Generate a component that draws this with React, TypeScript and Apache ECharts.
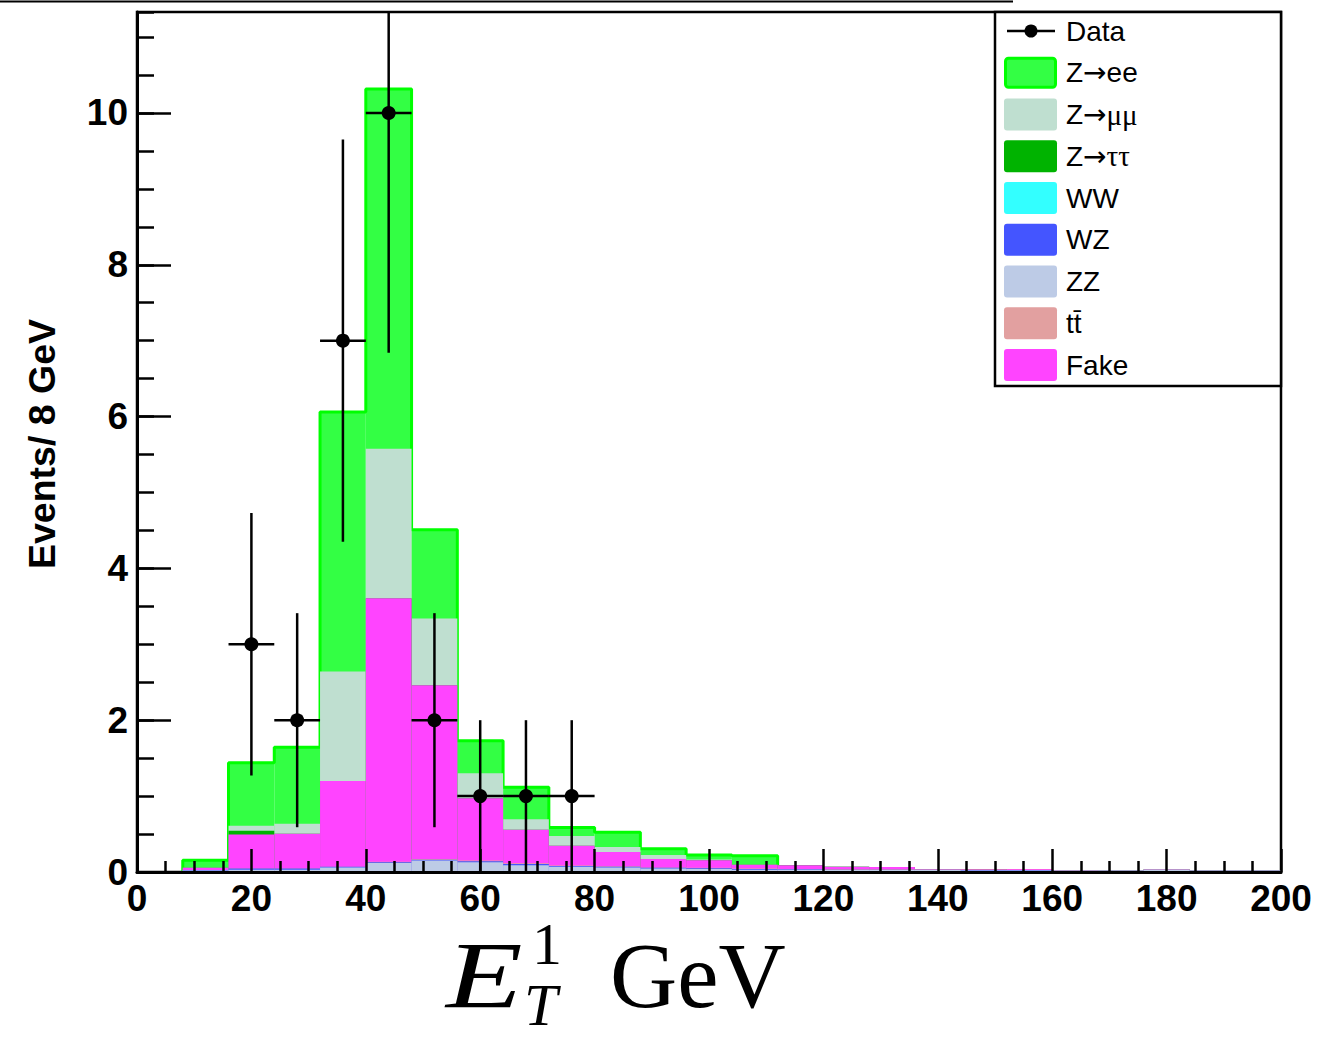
import React, { useEffect, useRef } from 'react';
import * as echarts from 'echarts';

// ---------- DATA ----------
const BIN_W = 8;
const binLow = [0, 8, 16, 24, 32, 40, 48, 56, 64, 72, 80, 88, 96, 104, 112, 120, 128, 136, 144, 152, 160, 168, 176, 184, 192];

// stacked components, bottom -> top
const ww = [0.005, 0.01, 0.01, 0.01, 0.01, 0.01, 0.01, 0.01, 0.01, 0.01, 0.01, 0.01, 0.01, 0.01, 0.01, 0.01, 0.01, 0.01, 0.01, 0.01, 0.01, 0.01, 0.01, 0.01, 0.01];
const zz = [0, 0.01, 0.02, 0.02, 0.05, 0.11, 0.14, 0.12, 0.08, 0.06, 0.05, 0.035, 0.03, 0.02, 0.02, 0.015, 0.015, 0.015, 0.01, 0.01, 0.005, 0.005, 0.02, 0.005, 0.005];
const wz = [0, 0.005, 0.015, 0.015, 0.01, 0.01, 0.01, 0.01, 0.015, 0.01, 0.01, 0.01, 0.01, 0.01, 0.005, 0.005, 0.005, 0.005, 0.005, 0.005, 0, 0, 0, 0, 0];
const ttbar = [0, 0, 0, 0, 0, 0.005, 0.01, 0.01, 0.01, 0.005, 0.005, 0.005, 0.005, 0.005, 0.005, 0.005, 0.005, 0.005, 0.005, 0.005, 0.005, 0, 0.005, 0, 0];
const fake = [0, 0.03, 0.45, 0.46, 1.13, 3.47, 2.29, 0.82, 0.44, 0.26, 0.19, 0.11, 0.10, 0.05, 0.05, 0.035, 0.03, 0.005, 0.005, 0.01, 0, 0, 0, 0, 0];
const ztautau = [0, 0, 0.05, 0, 0, 0, 0, 0, 0, 0, 0, 0, 0, 0, 0, 0, 0, 0, 0, 0, 0, 0, 0, 0, 0];
const zmumu = [0, 0, 0.065, 0.13, 1.44, 1.97, 0.88, 0.33, 0.14, 0.13, 0.065, 0.055, 0.01, 0, 0, 0, 0, 0, 0, 0, 0, 0, 0, 0, 0];
const zee = [0, 0.10, 0.83, 1.01, 3.42, 4.74, 1.17, 0.43, 0.42, 0.11, 0.195, 0.08, 0.06, 0.12, 0, 0, 0, 0, 0, 0, 0, 0, 0, 0, 0];

// observed data
const dataX = [20, 28, 36, 44, 52, 60, 68, 76];
const dataY = [3, 2, 7, 10, 2, 1, 1, 1];
const dataErr = [1.73, 1.41, 2.65, 3.16, 1.41, 1, 1, 1];

const xTicks = { min: 0, max: 200, step: 20 };
const yTicks = { min: 0, max: 11.33, step: 2 };

const stackNames = ['WW', 'ZZ', 'WZ', 'ttbar', 'Fake', 'Ztautau', 'Zmumu', 'Zee'];
const stackData = [ww, zz, wz, ttbar, fake, ztautau, zmumu, zee];
const stackColors = ['#33ffff', '#bdcbe6', '#4455ff', '#e2a0a0', '#ff44ff', '#00b300', '#bfdfd0', '#33ff44'];

const legendLabels = ['Data', '{a|Z}{b|→}{a|ee}', '{a|Z}{b|→}{g|μμ}', '{a|Z}{b|→}{g|ττ}', 'WW', 'WZ', 'ZZ', 'tt\u0304', 'Fake'];
const legendColors = ['', '#33ff44', '#bfdfd0', '#00b300', '#33ffff', '#4455ff', '#bdcbe6', '#e2a0a0', '#ff44ff'];

// ---------- CHART ----------
const BLACK = '#000';
const SANS = 'Liberation Sans, Arial, sans-serif';
const SERIF = 'Liberation Serif, Times New Roman, serif';

function rectRenderer(color: string) {
  return (params: any, api: any) => {
    const x0 = api.value(0);
    const x1 = api.value(1);
    const v = api.value(2);
    if (!(v > 0)) return null;
    const p0 = api.coord([x0, 0]);
    const p1 = api.coord([x1, v]);
    return {
      type: 'rect',
      shape: { x: p0[0], y: p1[1], width: p1[0] - p0[0], height: p0[1] - p1[1] },
      style: { fill: color },
    };
  };
}

export default function App() {
  const ref = useRef<HTMLDivElement>(null);

  useEffect(() => {
    document.body.style.margin = '0';
    const chart = echarts.init(ref.current!, null, { renderer: 'svg' });

    // cumulative sums (bottom -> top)
    const cum: number[][] = [];
    stackData.forEach((arr, k) => {
      cum.push(arr.map((v, i) => v + (k > 0 ? cum[k - 1][i] : 0)));
    });

    const series: any[] = [];
    // draw from the top-most cumulative downward (ROOT-style overlay)
    for (let k = stackData.length - 1; k >= 0; k--) {
      series.push({
        type: 'custom',
        name: stackNames[k],
        renderItem: rectRenderer(stackColors[k]),
        encode: { x: [0, 1], y: 2 },
        data: binLow.map((x, i) => [x, x + BIN_W, cum[k][i]]),
        z: 10 + (stackData.length - 1 - k) * 2,
        clip: true,
        silent: true,
      });
      if (k === stackData.length - 1) {
        // outline of Z->ee histogram
        const total = cum[k];
        const pts: number[][] = [];
        let first = -1, last = -1;
        total.forEach((v, i) => { if (zee[i] > 0) { if (first < 0) first = i; last = i; } });
        pts.push([binLow[first], 0]);
        for (let i = first; i <= last; i++) pts.push([binLow[i] + BIN_W, total[i]]);
        pts.push([binLow[last] + BIN_W, 0]);
        series.push({
          type: 'line',
          name: 'ZeeOutline',
          data: pts,
          step: 'start',
          symbol: 'none',
          lineStyle: { color: '#00ff00', width: 3 },
          z: 11,
          silent: true,
          clip: true,
        });
      }
    }

    series.push({
      type: 'custom',
      name: 'Data',
      encode: { x: 0, y: 1 },
      data: dataX.map((x, i) => [x, dataY[i], dataErr[i]]),
      z: 60,
      clip: true,
      renderItem: (params: any, api: any) => {
        const x = api.value(0);
        const y = api.value(1);
        const e = api.value(2);
        const c = api.coord([x, y]);
        const top = api.coord([x, Math.min(y + e, yTicks.max)]);
        const bot = api.coord([x, Math.max(0, y - e)]);
        const l = api.coord([x - BIN_W / 2, y]);
        const r = api.coord([x + BIN_W / 2, y]);
        return {
          type: 'group',
          children: [
            { type: 'line', shape: { x1: c[0], y1: top[1], x2: c[0], y2: bot[1] }, style: { stroke: BLACK, lineWidth: 2.5 } },
            { type: 'line', shape: { x1: l[0], y1: c[1], x2: r[0], y2: c[1] }, style: { stroke: BLACK, lineWidth: 2.5 } },
            { type: 'circle', shape: { cx: c[0], cy: c[1], r: 7 }, style: { fill: BLACK } },
          ],
        };
      },
    });

    const labelStyle = { color: BLACK, fontSize: 37, fontWeight: 'bold', fontFamily: SANS };

    // legend graphics
    const legendChildren: any[] = [
      { type: 'rect', shape: { x: 995, y: 12, width: 286, height: 374 }, style: { fill: '#fff', stroke: BLACK, lineWidth: 2.5 } },
    ];
    legendLabels.forEach((lab, i) => {
      const cy = 31 + i * 41.75;
      if (i === 0) {
        legendChildren.push({ type: 'line', shape: { x1: 1007, y1: cy, x2: 1055, y2: cy }, style: { stroke: BLACK, lineWidth: 2.5 } });
        legendChildren.push({ type: 'circle', shape: { cx: 1031, cy, r: 6.5 }, style: { fill: BLACK } });
      } else {
        const isZee = i === 1;
        legendChildren.push({
          type: 'rect',
          shape: isZee ? { x: 1005.5, y: cy - 14.5, width: 50, height: 29, r: 3 } : { x: 1004, y: cy - 16, width: 53, height: 32, r: 3 },
          style: { fill: legendColors[i], stroke: isZee ? '#00ff00' : null, lineWidth: isZee ? 3 : 0 },
        });
      }
      legendChildren.push({
        type: 'text',
        x: 1066,
        y: cy,
        style: {
          text: lab,
          fill: BLACK,
          fontSize: 28,
          fontFamily: SANS,
          align: 'left',
          verticalAlign: 'middle',
          rich: {
            a: { fontSize: 28, fontFamily: SANS, fill: BLACK },
            b: { fontSize: 28, fontFamily: 'DejaVu Sans, sans-serif', fill: BLACK },
            g: { fontSize: 29, fontFamily: SERIF, fill: BLACK },
          },
        },
      });
    });

    const option: any = {
      animation: false,
      backgroundColor: '#fff',
      grid: {
        left: 137, top: 12, width: 1144, height: 860,
        show: true, borderColor: BLACK, borderWidth: 2.5, backgroundColor: 'transparent',
        containLabel: false, outerBoundsMode: 'none',
      },
      xAxis: {
        type: 'value', min: xTicks.min, max: xTicks.max, interval: xTicks.step, z: 100,
        axisLine: { show: true, onZero: false, lineStyle: { color: BLACK, width: 3 } },
        axisTick: { show: true, inside: true, length: 23, lineStyle: { color: BLACK, width: 2.5 } },
        minorTick: { show: true, splitNumber: 4, length: 11, lineStyle: { color: BLACK, width: 2.5 } },
        splitLine: { show: false }, minorSplitLine: { show: false },
        axisLabel: { ...labelStyle, margin: 8, showMinLabel: true, showMaxLabel: true, hideOverlap: false },
      },
      yAxis: [
        {
          type: 'value', min: yTicks.min, max: yTicks.max, interval: yTicks.step, position: 'left', z: 100,
          axisLine: { show: true, onZero: false, lineStyle: { color: BLACK, width: 3 } },
          axisTick: { show: true, inside: true, length: 34, lineStyle: { color: BLACK, width: 2.5 } },
          splitLine: { show: false },
          axisLabel: { ...labelStyle, margin: 9, showMaxLabel: false },
        },
        {
          type: 'value', min: yTicks.min, max: yTicks.max, interval: 0.5, position: 'left', offset: 0, z: 100,
          axisLine: { show: false },
          axisTick: { show: true, inside: true, length: 17, lineStyle: { color: BLACK, width: 2.5 } },
          splitLine: { show: false },
          axisLabel: { show: false },
        },
      ],
      series,
      graphic: [
        { type: 'line', z: 200, shape: { x1: 0, y1: 1.5, x2: 1013, y2: 1.5 }, style: { stroke: BLACK, lineWidth: 2 } },
        { type: 'group', z: 200, children: legendChildren },
        {
          type: 'text', z: 200, x: 42, y: 444, rotation: Math.PI / 2,
          style: { text: 'Events/ 8 GeV', fill: BLACK, fontSize: 37.5, fontWeight: 'bold', fontFamily: SANS, align: 'center', verticalAlign: 'middle' },
        },
        { type: 'text', z: 200, x: 446, y: 975.6, scaleX: 1.32, style: { text: 'E', fill: BLACK, fontSize: 95, fontStyle: 'italic', fontFamily: SERIF, align: 'left', verticalAlign: 'middle' } },
        { type: 'text', z: 200, x: 532, y: 944, style: { text: '1', fill: BLACK, fontSize: 60, fontFamily: SERIF, align: 'left', verticalAlign: 'middle' } },
        { type: 'text', z: 200, x: 524, y: 1005, style: { text: 'T', fill: BLACK, fontSize: 60, fontStyle: 'italic', fontFamily: SERIF, align: 'left', verticalAlign: 'middle' } },
        { type: 'text', z: 200, x: 610, y: 975.6, style: { text: 'GeV', fill: BLACK, fontSize: 93, fontFamily: SERIF, align: 'left', verticalAlign: 'middle' } },
      ],
    };

    chart.setOption(option);
    return () => chart.dispose();
  }, []);

  return (
    <div
      ref={ref}
      style={{ position: 'fixed', left: 0, top: 0, width: 1320, height: 1039, background: '#fff' }}
    />
  );
}
